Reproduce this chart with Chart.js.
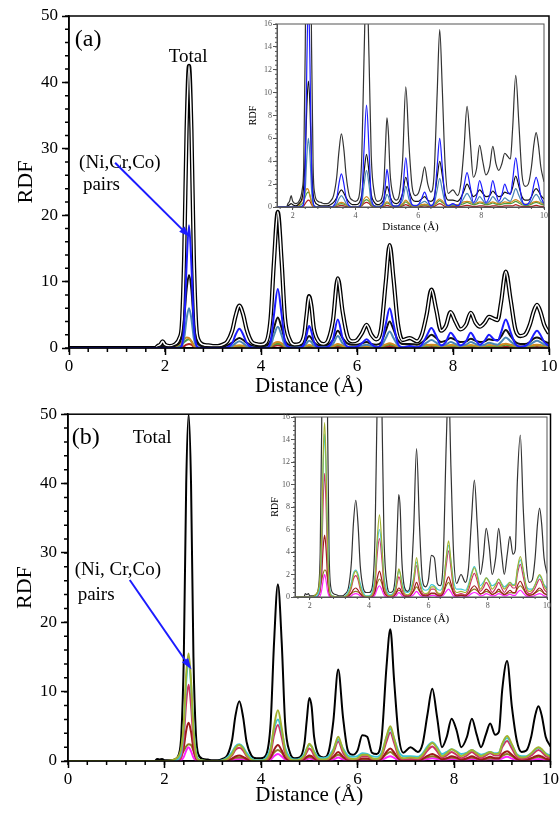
<!DOCTYPE html>
<html>
<head>
<meta charset="utf-8">
<script src="https://cdn.jsdelivr.net/npm/chart.js@4.4.1/dist/chart.umd.min.js"></script>
<style>
  html, body { margin: 0; padding: 0; background: #fff; }
  #page { position: relative; width: 560px; height: 816px; overflow: hidden; background: #fff; }
  canvas { position: absolute; }
</style>
</head>
<body>
<div id="page">
  <canvas id="mainA" width="560" height="400" style="left:0;top:0"></canvas>
  <canvas id="insetA" width="316" height="226" style="left:236px;top:16px"></canvas>
  <canvas id="mainB" width="560" height="416" style="left:0;top:400px"></canvas>
  <canvas id="insetB" width="304" height="222" style="left:250px;top:410px"></canvas>
</div>
<script>
// r grid shared by every curve (Å)
const distance = [
  0, 1.8, 1.85, 1.9, 1.95, 2.0, 2.1, 2.2, 2.3, 2.35,
  2.4, 2.45, 2.5, 2.55, 2.6, 2.65, 2.7, 2.8, 2.9, 3.0,
  3.1, 3.2, 3.3, 3.4, 3.47, 3.55, 3.63, 3.7, 3.8, 3.9,
  4.0, 4.1, 4.2, 4.27, 4.35, 4.43, 4.5, 4.6, 4.7, 4.8,
  4.9, 4.95, 5.0, 5.05, 5.1, 5.2, 5.3, 5.4, 5.5, 5.6,
  5.7, 5.8, 5.9, 6.0, 6.1, 6.2, 6.3, 6.4, 6.5, 6.6,
  6.68, 6.76, 6.85, 6.95, 7.1, 7.25, 7.35, 7.45, 7.55, 7.65,
  7.75, 7.85, 7.95, 8.05, 8.15, 8.27, 8.37, 8.47, 8.56, 8.66,
  8.75, 8.85, 8.93, 9.0, 9.1, 9.2, 9.3, 9.4, 9.5, 9.6,
  9.68, 9.75, 9.82, 9.9, 10.0
];

// panel (a)
const totalA = [
  0, 0, 0.3, 0.5, 1.0, 0.5, 0.3, 0.5, 1.5, 3.5,
  14, 33, 42.5, 33, 14, 3.5, 1.2, 0.5, 0.4, 0.3,
  0.3, 0.5, 1.0, 2.6, 4.8, 6.4, 5.0, 2.8, 1.0, 0.6,
  0.5, 0.8, 4.5, 13, 20.5, 13, 4.5, 1.2, 0.5, 0.6,
  2.0, 5.0, 7.8, 6.3, 3.0, 1.0, 0.6, 1.2, 4.2, 10.5,
  5.5, 1.8, 1.0, 1.2, 2.2, 3.5, 2.0, 1.3, 2.8, 10.0,
  15.5, 10.5, 3.8, 1.2, 1.5, 1.0, 2.0, 5.0, 8.8, 5.8,
  2.6, 3.3, 5.4, 4.0, 2.8, 3.5, 5.3, 3.8, 3.2, 3.8,
  4.7, 4.4, 4.2, 6.8, 11.5, 7.3, 2.8, 1.8, 2.0, 3.5,
  5.5, 6.5, 5.5, 3.5, 2.2
];
const darkA = [
  0, 0, 0.1, 0.2, 0.3, 0.2, 0.1, 0.3, 0.8, 1.8,
  4.5, 8.8, 11.0, 8.8, 3.8, 1.2, 0.5, 0.2, 0.1, 0.1,
  0.1, 0.2, 0.4, 0.8, 1.2, 1.5, 1.2, 0.8, 0.4, 0.2,
  0.2, 0.3, 1.1, 3.0, 4.6, 3.0, 1.1, 0.4, 0.2, 0.3,
  0.7, 1.3, 1.8, 1.5, 0.9, 0.4, 0.3, 0.5, 1.2, 2.6,
  1.5, 0.7, 0.5, 0.5, 0.7, 0.9, 0.6, 0.5, 0.8, 2.6,
  4.0, 2.8, 1.2, 0.6, 0.6, 0.5, 0.8, 1.4, 2.0, 1.5,
  0.9, 1.1, 1.5, 1.2, 0.9, 1.0, 1.4, 1.1, 0.9, 1.0,
  1.3, 1.2, 1.2, 1.7, 2.7, 1.8, 0.9, 0.6, 0.6, 0.9,
  1.4, 1.6, 1.4, 1.0, 0.7
];
const blueA = [
  0, 0, 0, 0, 0, 0, 0, 0, 0.05, 0.4,
  3.5, 12.5, 18.5, 12.5, 3.5, 0.5, 0.05, 0, 0, 0,
  0, 0, 0.1, 0.7, 2.0, 2.9, 2.0, 0.8, 0.1, 0,
  0, 0, 0.9, 5.0, 8.9, 5.0, 0.9, 0.1, 0, 0.05,
  0.6, 2.0, 3.3, 2.5, 1.0, 0.1, 0.05, 0.2, 1.3, 4.3,
  1.5, 0.2, 0.1, 0.2, 0.7, 1.3, 0.6, 0.1, 0.5, 3.6,
  6.0, 3.6, 0.7, 0.1, 0.3, 0.1, 0.5, 1.8, 3.0, 1.8,
  0.4, 0.9, 2.3, 1.4, 0.4, 1.0, 2.3, 1.2, 0.5, 1.1,
  2.0, 1.3, 1.1, 2.3, 4.3, 2.4, 0.6, 0.2, 0.3, 0.9,
  2.0, 2.6, 2.0, 0.9, 0.3
];
const steelA = [
  0, 0, 0, 0, 0, 0, 0, 0, 0.1, 0.3,
  1.5, 4.4, 6.0, 4.4, 1.5, 0.3, 0.1, 0, 0, 0,
  0, 0, 0.05, 0.3, 0.7, 1.0, 0.7, 0.3, 0.1, 0,
  0, 0.05, 0.4, 1.9, 3.2, 1.9, 0.4, 0.1, 0.05, 0.1,
  0.3, 0.7, 1.1, 0.9, 0.4, 0.1, 0.1, 0.2, 0.6, 1.8,
  0.7, 0.2, 0.15, 0.2, 0.35, 0.5, 0.3, 0.15, 0.3, 1.5,
  2.5, 1.5, 0.4, 0.15, 0.2, 0.15, 0.3, 0.8, 1.2, 0.8,
  0.3, 0.5, 0.9, 0.6, 0.3, 0.5, 0.9, 0.6, 0.35, 0.5,
  0.8, 0.6, 0.5, 0.9, 1.6, 1.0, 0.4, 0.2, 0.25, 0.5,
  0.9, 1.1, 0.9, 0.5, 0.3
];
const orangeA = [
  0, 0, 0, 0, 0, 0, 0.05, 0.2, 0.6, 0.9,
  1.3, 1.6, 1.5, 1.0, 0.4, 0.1, 0.05, 0, 0, 0,
  0, 0, 0.05, 0.2, 0.35, 0.4, 0.35, 0.2, 0.05, 0,
  0, 0.05, 0.3, 0.7, 0.9, 0.7, 0.3, 0.1, 0.05, 0.1,
  0.2, 0.35, 0.45, 0.4, 0.25, 0.1, 0.1, 0.15, 0.3, 0.6,
  0.35, 0.15, 0.1, 0.15, 0.2, 0.25, 0.2, 0.15, 0.25, 0.55,
  0.7, 0.55, 0.25, 0.15, 0.2, 0.2, 0.3, 0.45, 0.5, 0.45,
  0.3, 0.35, 0.45, 0.4, 0.3, 0.35, 0.45, 0.35, 0.3, 0.35,
  0.45, 0.4, 0.4, 0.5, 0.65, 0.5, 0.3, 0.25, 0.25, 0.35,
  0.45, 0.5, 0.45, 0.35, 0.25
];
const greenA = [
  0, 0, 0, 0, 0, 0, 0, 0.1, 0.3, 0.5,
  0.9, 1.2, 1.3, 1.0, 0.4, 0.1, 0.05, 0, 0, 0,
  0, 0, 0.05, 0.15, 0.25, 0.3, 0.25, 0.15, 0.05, 0,
  0, 0.05, 0.2, 0.5, 0.65, 0.5, 0.2, 0.05, 0.05, 0.05,
  0.15, 0.25, 0.35, 0.3, 0.2, 0.1, 0.05, 0.1, 0.2, 0.45,
  0.25, 0.1, 0.1, 0.1, 0.15, 0.2, 0.15, 0.1, 0.15, 0.4,
  0.55, 0.4, 0.2, 0.1, 0.15, 0.15, 0.2, 0.3, 0.4, 0.3,
  0.2, 0.25, 0.35, 0.3, 0.2, 0.25, 0.35, 0.25, 0.2, 0.25,
  0.3, 0.3, 0.3, 0.35, 0.5, 0.35, 0.2, 0.15, 0.15, 0.25,
  0.35, 0.4, 0.35, 0.25, 0.2
];
const redA = [
  0, 0, 0, 0, 0, 0, 0, 0, 0, 0.1,
  0.3, 0.5, 0.6, 0.5, 0.2, 0.05, 0, 0, 0, 0,
  0, 0, 0, 0.05, 0.1, 0.15, 0.1, 0.05, 0, 0,
  0, 0, 0.1, 0.3, 0.4, 0.3, 0.1, 0, 0, 0,
  0.05, 0.1, 0.15, 0.12, 0.05, 0, 0, 0, 0.1, 0.2,
  0.1, 0, 0, 0, 0.05, 0.1, 0.05, 0, 0.05, 0.2,
  0.3, 0.2, 0.05, 0, 0.05, 0.05, 0.05, 0.1, 0.15, 0.1,
  0.05, 0.05, 0.1, 0.1, 0.05, 0.05, 0.1, 0.1, 0.05, 0.05,
  0.1, 0.1, 0.1, 0.1, 0.2, 0.1, 0.05, 0.05, 0.05, 0.05,
  0.1, 0.15, 0.1, 0.05, 0.05
];

// panel (b)
const totalB = [
  0, 0, 0.3, 0.2, 0.3, 0.1, 0.1, 0.2, 1.0, 4.0,
  15, 40, 50, 40, 15, 4, 1.0, 0.3, 0.2, 0.1,
  0.1, 0.3, 0.8, 3.0, 6.5, 8.6, 6.3, 2.8, 0.8, 0.4,
  0.4, 0.8, 5.5, 17, 25.5, 17, 5.5, 1.2, 0.4, 0.5,
  2.5, 6.0, 9.1, 7.8, 3.5, 0.8, 0.5, 1.3, 5.8, 13.2,
  6.3, 1.5, 0.9, 1.5, 3.7, 3.5, 1.2, 1.0, 3.3, 13.5,
  19, 11.5, 3.8, 1.2, 2.0, 1.3, 2.5, 6.7, 10.4, 6.3,
  2.0, 3.5, 6.1, 4.5, 2.0, 3.5, 6.1, 3.8, 2.0, 3.8,
  5.4, 3.8, 4.2, 10.3, 14.4, 7.8, 3.0, 1.3, 1.5, 3.5,
  6.5, 7.9, 6.5, 3.5, 2.1
];
const oliveB = [
  0, 0, 0, 0, 0, 0, 0.05, 0.2, 0.8, 2.0,
  5.5, 12.5, 15.5, 11.5, 4.5, 1.1, 0.2, 0.05, 0, 0,
  0, 0.05, 0.3, 1.0, 1.9, 2.3, 1.8, 0.9, 0.2, 0.05,
  0.05, 0.2, 1.6, 5.0, 7.3, 4.7, 1.5, 0.3, 0.1, 0.2,
  0.8, 1.7, 2.5, 2.1, 1.2, 0.3, 0.2, 0.4, 1.5, 3.5,
  1.6, 0.5, 0.3, 0.4, 0.9, 0.9, 0.4, 0.3, 0.9, 3.5,
  5.0, 3.2, 1.0, 0.4, 0.5, 0.4, 0.9, 1.9, 2.6, 1.8,
  0.7, 1.1, 1.7, 1.3, 0.7, 1.1, 1.6, 1.1, 0.7, 1.0,
  1.3, 1.0, 1.1, 2.5, 3.6, 2.4, 0.9, 0.5, 0.6, 1.1,
  1.7, 2.0, 1.7, 1.0, 0.6
];
const cyanB = [
  0, 0, 0, 0, 0, 0, 0, 0.05, 0.4, 1.4,
  5.0, 11.5, 14.5, 11, 5.0, 1.4, 0.3, 0.05, 0, 0,
  0, 0.1, 0.5, 1.3, 2.1, 2.4, 2.0, 1.2, 0.4, 0.1,
  0.1, 0.4, 1.9, 4.6, 6.0, 4.3, 1.9, 0.5, 0.2, 0.3,
  1.0, 1.8, 2.3, 2.1, 1.4, 0.5, 0.4, 0.7, 1.7, 3.1,
  1.8, 0.8, 0.6, 0.7, 1.1, 1.0, 0.7, 0.6, 1.2, 3.4,
  4.6, 3.2, 1.4, 0.7, 0.7, 0.6, 1.1, 2.1, 2.7, 2.0,
  1.0, 1.3, 1.7, 1.4, 1.0, 1.2, 1.6, 1.2, 0.9, 1.1,
  1.3, 1.1, 1.2, 2.4, 3.3, 2.3, 1.0, 0.7, 0.7, 1.1,
  1.6, 1.9, 1.6, 1.1, 0.8
];
const roseB = [
  0, 0, 0, 0, 0, 0, 0, 0, 0.2, 0.7,
  3.5, 8.5, 11, 8.0, 3.0, 0.7, 0.1, 0, 0, 0,
  0, 0, 0.2, 0.8, 1.6, 1.9, 1.5, 0.7, 0.15, 0,
  0.05, 0.1, 1.1, 3.7, 5.2, 3.4, 1.1, 0.2, 0.05, 0.1,
  0.6, 1.3, 1.8, 1.5, 0.8, 0.15, 0.1, 0.3, 1.2, 2.8,
  1.2, 0.3, 0.2, 0.3, 0.7, 0.7, 0.3, 0.2, 0.7, 2.8,
  4.1, 2.6, 0.7, 0.2, 0.3, 0.2, 0.6, 1.5, 2.1, 1.4,
  0.5, 0.8, 1.3, 0.9, 0.4, 0.8, 1.3, 0.8, 0.4, 0.8,
  1.1, 0.8, 0.8, 2.0, 2.9, 1.8, 0.6, 0.3, 0.4, 0.8,
  1.3, 1.6, 1.3, 0.7, 0.4
];
const maroonB = [
  0, 0, 0, 0, 0, 0, 0, 0, 0.2, 0.6,
  2.0, 4.4, 5.5, 4.2, 1.7, 0.4, 0.1, 0, 0, 0,
  0, 0, 0.1, 0.35, 0.65, 0.8, 0.6, 0.3, 0.05, 0,
  0, 0.05, 0.5, 1.6, 2.3, 1.5, 0.5, 0.1, 0.05, 0.05,
  0.3, 0.6, 0.8, 0.7, 0.4, 0.1, 0.05, 0.15, 0.6, 1.3,
  0.6, 0.15, 0.1, 0.15, 0.35, 0.35, 0.15, 0.1, 0.35, 1.3,
  1.8, 1.2, 0.35, 0.1, 0.15, 0.1, 0.3, 0.75, 1.0, 0.7,
  0.25, 0.4, 0.7, 0.5, 0.2, 0.4, 0.7, 0.4, 0.2, 0.4,
  0.6, 0.4, 0.4, 1.0, 1.4, 0.9, 0.3, 0.15, 0.2, 0.4,
  0.65, 0.8, 0.65, 0.35, 0.2
];
const khakiB = [
  0, 0, 0, 0, 0, 0, 0, 0.2, 0.6, 1.0,
  1.5, 2.1, 2.4, 2.3, 1.5, 0.6, 0.2, 0.05, 0, 0,
  0, 0, 0.1, 0.3, 0.45, 0.5, 0.45, 0.3, 0.1, 0,
  0.05, 0.1, 0.5, 1.2, 1.6, 1.2, 0.5, 0.15, 0.05, 0.1,
  0.3, 0.5, 0.6, 0.55, 0.35, 0.1, 0.1, 0.2, 0.5, 0.9,
  0.5, 0.2, 0.15, 0.2, 0.3, 0.3, 0.2, 0.15, 0.35, 1.0,
  1.3, 0.9, 0.35, 0.15, 0.2, 0.15, 0.3, 0.55, 0.7, 0.55,
  0.3, 0.35, 0.5, 0.4, 0.25, 0.35, 0.5, 0.35, 0.25, 0.3,
  0.4, 0.35, 0.35, 0.75, 1.0, 0.7, 0.3, 0.2, 0.2, 0.35,
  0.5, 0.6, 0.5, 0.3, 0.2
];
const magentaB = [
  0, 0, 0, 0, 0, 0, 0, 0, 0, 0.1,
  0.6, 1.5, 2.0, 1.4, 0.5, 0.1, 0, 0, 0, 0,
  0, 0, 0, 0.1, 0.25, 0.3, 0.25, 0.1, 0, 0,
  0, 0, 0.2, 0.7, 1.0, 0.65, 0.2, 0, 0, 0,
  0.1, 0.25, 0.4, 0.3, 0.15, 0, 0, 0.05, 0.2, 0.5,
  0.2, 0.05, 0, 0.05, 0.15, 0.15, 0.05, 0.05, 0.15, 0.5,
  0.7, 0.45, 0.1, 0.05, 0.1, 0.05, 0.1, 0.3, 0.4, 0.3,
  0.1, 0.15, 0.3, 0.2, 0.1, 0.15, 0.3, 0.2, 0.1, 0.15,
  0.25, 0.15, 0.15, 0.4, 0.6, 0.35, 0.1, 0.05, 0.05, 0.15,
  0.25, 0.3, 0.25, 0.1, 0.05
];

const mainXTicks = [0, 2, 4, 6, 8, 10];
const mainYTicks = [0, 10, 20, 30, 40, 50];
const insetXTicks = [2, 4, 6, 8, 10];
const insetYTicks = [0, 2, 4, 6, 8, 10, 12, 14, 16];

const SERIF = '"Liberation Serif", "DejaVu Serif", serif';

const toPoints = (values) => distance.map((x, i) => ({ x, y: values[i] }));

const curve = (values, color, width) => ({
  data: toPoints(values),
  borderColor: color,
  borderWidth: width,
  pointRadius: 0,
  fill: false,
  tension: 0.4,
  cubicInterpolationMode: 'monotone',
});

// frame, minor ticks, panel notes and the arrow
const panelDecor = {
  id: 'panelDecor',
  beforeDraw(chart, args, opts) {
    if (!opts.background) return;
    const { ctx, chartArea: a } = chart;
    ctx.save();
    ctx.fillStyle = opts.background;
    ctx.fillRect(a.left, a.top, a.right - a.left, a.bottom - a.top);
    ctx.restore();
  },
  afterDraw(chart, args, opts) {
    const { ctx, chartArea: a, scales: { x, y } } = chart;
    ctx.save();
    ctx.strokeStyle = opts.color;
    ctx.lineWidth = opts.tickWidth;
    ctx.beginPath();
    const xStart = Math.ceil(x.min / opts.minorX - 1e-6) * opts.minorX;
    const nx = Math.floor((x.max - xStart) / opts.minorX + 1e-6);
    for (let i = 0; i <= nx; i++) {
      const px = x.getPixelForValue(xStart + i * opts.minorX);
      ctx.moveTo(px, a.bottom);
      ctx.lineTo(px, a.bottom + opts.minorLen);
    }
    const ny = Math.round((y.max - y.min) / opts.minorY);
    for (let i = 0; i <= ny; i++) {
      const py = y.getPixelForValue(y.min + i * opts.minorY);
      ctx.moveTo(a.left, py);
      ctx.lineTo(a.left - opts.minorLen, py);
    }
    ctx.stroke();

    ctx.lineWidth = opts.frameWidth;
    ctx.strokeRect(a.left, a.top, a.right - a.left, a.bottom - a.top);

    ctx.fillStyle = '#000';
    ctx.textBaseline = 'middle';
    (opts.notes || []).forEach((n) => {
      ctx.font = n.font;
      ctx.textAlign = n.align || 'left';
      ctx.fillText(n.text, x.getPixelForValue(n.x), y.getPixelForValue(n.y));
    });

    if (opts.arrow) {
      const { from, to, color } = opts.arrow;
      const x0 = x.getPixelForValue(from[0]);
      const y0 = y.getPixelForValue(from[1]);
      const x1 = x.getPixelForValue(to[0]);
      const y1 = y.getPixelForValue(to[1]);
      const ang = Math.atan2(y1 - y0, x1 - x0);
      const head = 12;
      ctx.strokeStyle = color;
      ctx.fillStyle = color;
      ctx.lineWidth = 2;
      ctx.beginPath();
      ctx.moveTo(x0, y0);
      ctx.lineTo(x1 - head * 0.8 * Math.cos(ang), y1 - head * 0.8 * Math.sin(ang));
      ctx.stroke();
      ctx.beginPath();
      ctx.moveTo(x1, y1);
      ctx.lineTo(x1 - head * Math.cos(ang - 0.32), y1 - head * Math.sin(ang - 0.32));
      ctx.lineTo(x1 - head * Math.cos(ang + 0.32), y1 - head * Math.sin(ang + 0.32));
      ctx.closePath();
      ctx.fill();
    }
    ctx.restore();
  },
};

const xAxis = (o) => ({
  type: 'linear',
  min: o.min,
  max: 10,
  afterBuildTicks: (s) => { s.ticks = o.ticks.map((v) => ({ value: v })); },
  afterFit: (s) => { s.height = o.height; },
  ticks: { font: { family: SERIF, size: o.fontSize }, color: o.color, padding: o.tickPad, maxRotation: 0, autoSkip: false },
  grid: { drawOnChartArea: false, tickLength: o.tickLen, tickColor: o.color, tickWidth: o.width },
  border: { color: o.color, width: o.width },
  title: { display: true, text: 'Distance (Å)', font: { family: SERIF, size: o.titleSize }, color: '#000', padding: { top: 0, bottom: o.titlePad } },
});

const yAxis = (o) => ({
  type: 'linear',
  min: 0,
  max: o.max,
  afterBuildTicks: (s) => { s.ticks = o.ticks.map((v) => ({ value: v })); },
  afterFit: (s) => { s.width = o.width_; },
  ticks: { font: { family: SERIF, size: o.fontSize }, color: o.color, padding: o.tickPad, autoSkip: false },
  grid: { drawOnChartArea: false, tickLength: o.tickLen, tickColor: o.color, tickWidth: o.width },
  border: { color: o.color, width: o.width },
  title: { display: true, text: 'RDF', font: { family: SERIF, size: o.titleSize }, color: '#000', padding: { top: o.titlePad, bottom: 0 } },
});

const baseOptions = (padding, scales, decor) => ({
  responsive: false,
  animation: false,
  devicePixelRatio: 1,
  layout: { padding },
  plugins: { legend: { display: false }, tooltip: { enabled: false }, panelDecor: decor },
  scales,
});

const mainScales = (xh, yw, xTitlePad, yTitlePad) => ({
  x: xAxis({ min: 0, ticks: mainXTicks, height: xh, fontSize: 17, color: '#000', tickPad: 1, tickLen: 7, width: 1.5, titleSize: 21, titlePad: xTitlePad }),
  y: yAxis({ max: 50, ticks: mainYTicks, width_: yw, fontSize: 17, color: '#000', tickPad: 4, tickLen: 7, width: 1.5, titleSize: 22, titlePad: yTitlePad }),
});

const insetScales = (xh, yw, xTitlePad, yTitlePad) => ({
  x: xAxis({ min: 1.5, ticks: insetXTicks, height: xh, fontSize: 8, color: '#555', tickPad: 1, tickLen: 3, width: 1, titleSize: 11, titlePad: xTitlePad }),
  y: yAxis({ max: 16, ticks: insetYTicks, width_: yw, fontSize: 8, color: '#555', tickPad: 1, tickLen: 4, width: 1, titleSize: 10, titlePad: yTitlePad }),
});

const mainDecor = (notes, arrow) => ({ color: '#000', tickWidth: 1.5, minorX: 0.4, minorY: 2, minorLen: 4, frameWidth: 1.5, notes, arrow });
const insetDecor = { background: '#fff', color: '#555', tickWidth: 1, minorX: 0.4, minorY: 0.4, minorLen: 2, frameWidth: 1 };

const setA = (w, core) => [
  curve(blueA, '#1c1cff', w),
  curve(steelA, '#4a86b4', w),
  curve(darkA, '#111111', w),
  curve(orangeA, '#d08a20', w),
  curve(greenA, '#4f9a3a', w),
  curve(redA, '#b22020', w),
  ...(core ? [curve(totalA, '#ffffff', core)] : []),
  curve(totalA, w > 1.5 ? '#000000' : '#333333', w > 1.5 ? 4.2 : w),
];

const setB = (w) => [
  curve(oliveB, '#a2b22e', w),
  curve(cyanB, '#3cc6d6', w),
  curve(roseB, '#cc3366', w),
  curve(maroonB, '#9c1a1a', w),
  curve(khakiB, '#8c7a22', w),
  curve(magentaB, '#ff22ff', w),
  curve(totalB, w > 1.5 ? '#000000' : '#333333', w),
];

new Chart(document.getElementById('mainA'), {
  type: 'line',
  data: { datasets: setA(2, 1.6) },
  options: baseOptions(
    { top: 16, right: 11, left: 0, bottom: 0 },
    mainScales(52, 69, 1, 13),
    mainDecor([
      { text: '(a)', x: 0.12, y: 46.4, font: `24px ${SERIF}` },
      { text: 'Total', x: 2.48, y: 43.8, font: `19px ${SERIF}`, align: 'center' },
      { text: '(Ni,Cr,Co)', x: 0.21, y: 27.9, font: `19px ${SERIF}` },
      { text: 'pairs', x: 0.29, y: 24.5, font: `19px ${SERIF}` },
    ], { from: [0.96, 27.9], to: [2.52, 16.7], color: '#1c1cff' })
  ),
  plugins: [panelDecor],
});

new Chart(document.getElementById('insetA'), {
  type: 'line',
  data: { datasets: setA(1.2, 0) },
  options: baseOptions(
    { top: 8, right: 8, left: 0, bottom: 0 },
    insetScales(35, 41, 8, 11),
    insetDecor
  ),
  plugins: [panelDecor],
});

new Chart(document.getElementById('mainB'), {
  type: 'line',
  data: { datasets: setB(2) },
  options: baseOptions(
    { top: 9, right: 7, left: 0, bottom: 0 },
    mainScales(55, 68, 8, 12),
    mainDecor([
      { text: '(b)', x: 0.08, y: 46.6, font: `24px ${SERIF}` },
      { text: 'Total', x: 1.34, y: 46.6, font: `19px ${SERIF}` },
      { text: '(Ni, Cr,Co)', x: 0.14, y: 27.6, font: `19px ${SERIF}` },
      { text: 'pairs', x: 0.2, y: 24.0, font: `19px ${SERIF}` },
    ], { from: [1.28, 26.1], to: [2.56, 13.2], color: '#1c1cff' })
  ),
  plugins: [panelDecor],
});

new Chart(document.getElementById('insetB'), {
  type: 'line',
  data: { datasets: setB(1.2) },
  options: baseOptions(
    { top: 7, right: 7, left: 0, bottom: 0 },
    insetScales(35, 45, 6, 19),
    insetDecor
  ),
  plugins: [panelDecor],
});
</script>
</body>
</html>
